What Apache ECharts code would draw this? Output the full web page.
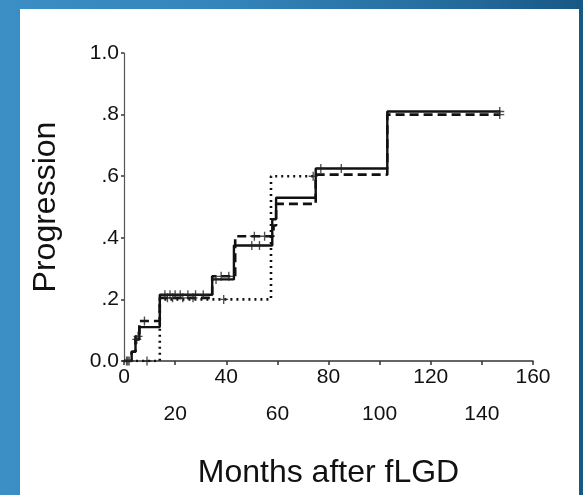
<!DOCTYPE html>
<html>
<head>
<meta charset="utf-8">
<script src="https://cdn.jsdelivr.net/npm/echarts@6/dist/echarts.min.js"></script>
<style>
  html, body { margin: 0; padding: 0; }
  body {
    width: 583px; height: 495px; position: relative; overflow: hidden;
    background: linear-gradient(to right, #3b8fc4 0%, #3384b9 40%, #23699b 80%, #175885 100%);
  }
  #panel { position: absolute; left: 20px; top: 9px; width: 559px; height: 486px; background: #ffffff; }
  #chart { position: absolute; left: 0; top: 0; width: 583px; height: 495px; }
</style>
</head>
<body>
<div id="panel"></div>
<div id="chart"></div>
<script>
// ---- data ----
var xTickLabels = ['0', '20', '40', '60', '80', '100', '120', '140', '160'];
var yTickLabels = ['0.0', '.2', '.4', '.6', '.8', '1.0'];

// solid curve (step changes: time, cumulative progression)
var solidTimes  = [0, 3, 4.5, 6, 14, 34.5, 43, 58, 59.5, 75, 103, 147];
var solidValues = [0, 0.03, 0.07, 0.11, 0.215, 0.265, 0.375, 0.46, 0.53, 0.625, 0.81, 0.81];

// dashed curve
var dashedTimes  = [0, 3, 4.5, 6, 14, 34.5, 43.5, 58.5, 59.5, 75, 103, 147];
var dashedValues = [0, 0.03, 0.08, 0.13, 0.205, 0.275, 0.405, 0.44, 0.51, 0.605, 0.80, 0.80];

// dotted curve
var dottedTimes  = [0, 14, 57.5, 74];
var dottedValues = [0, 0.2, 0.6, 0.6];

// censored observations (+ marks)
var solidCensorT = [1, 5, 16, 18, 20, 22, 25, 28, 31, 36, 50, 53, 77, 85, 147];
var solidCensorV = [0, 0.07, 0.215, 0.215, 0.215, 0.215, 0.215, 0.215, 0.215, 0.265, 0.375, 0.375, 0.625, 0.625, 0.81];
var dashedCensorT = [2, 5.5, 8, 17, 19, 23, 27, 38, 41, 51, 55, 147];
var dashedCensorV = [0, 0.08, 0.13, 0.205, 0.205, 0.205, 0.205, 0.275, 0.275, 0.405, 0.405, 0.80];
var dottedCensorT = [1.5, 9, 39, 74];
var dottedCensorV = [0, 0, 0.2, 0.6];

function zip(a, b) { return a.map(function (v, i) { return [v, b[i]]; }); }

var plus = 'path://M3.4,0h1.2v3.4h3.4v1.2h-3.4v3.4h-1.2v-3.4h-3.4v-1.2h3.4z';
var FONT = '"Liberation Sans", Arial, Helvetica, sans-serif';

var chart = echarts.init(document.getElementById('chart'), null, { renderer: 'canvas' });
chart.setOption({
  backgroundColor: 'transparent',
  animation: false,
  grid: { left: 124, right: 50, top: 53, bottom: 134, containLabel: false },
  xAxis: {
    type: 'value', min: 0, max: 160, interval: 20,
    name: 'Months after fLGD', nameLocation: 'middle', nameGap: 96,
    nameTextStyle: { fontFamily: FONT, fontSize: 32, color: '#111' },
    axisLine: { show: true, lineStyle: { color: '#333', width: 1.5 } },
    axisTick: { show: true, length: 4, lineStyle: { color: '#333', width: 1.5 } },
    splitLine: { show: false },
    axisLabel: {
      margin: 6, fontFamily: FONT, fontSize: 21, color: '#111',
      formatter: function (v) {
        var i = Math.round(v / 20);
        return i % 2 === 0 ? '{a|' + xTickLabels[i] + '}' : '{b|' + xTickLabels[i] + '}';
      },
      rich: {
        a: { fontFamily: FONT, fontSize: 21, color: '#111', lineHeight: 21 },
        b: { fontFamily: FONT, fontSize: 21, color: '#111', lineHeight: 21, padding: [74, 0, 0, 0] }
      }
    }
  },
  yAxis: {
    type: 'value', min: 0, max: 1, interval: 0.2,
    name: 'Progression', nameLocation: 'middle', nameGap: 62,
    nameTextStyle: { fontFamily: FONT, fontSize: 32, color: '#111' },
    axisLine: { show: true, lineStyle: { color: '#555', width: 1.2 } },
    axisTick: { show: true, length: 3, lineStyle: { color: '#333', width: 1.5 } },
    splitLine: { show: false },
    axisLabel: {
      margin: 5, fontFamily: FONT, fontSize: 21, color: '#111',
      formatter: function (v) { return yTickLabels[Math.round(v / 0.2)]; }
    }
  },
  series: [
    { type: 'line', step: 'end', symbol: 'none', data: zip(dottedTimes, dottedValues),
      lineStyle: { color: '#111', width: 2.6, type: [2, 4] }, z: 2 },
    { type: 'line', step: 'end', symbol: 'none', data: zip(dashedTimes, dashedValues),
      lineStyle: { color: '#111', width: 2.6, type: [9, 5] }, z: 3 },
    { type: 'line', step: 'end', symbol: 'none', data: zip(solidTimes, solidValues),
      lineStyle: { color: '#111', width: 2.4, type: 'solid' }, z: 4 },
    { type: 'scatter', symbol: plus, symbolSize: 9, data: zip(solidCensorT, solidCensorV),
      itemStyle: { color: '#222' }, z: 5 },
    { type: 'scatter', symbol: plus, symbolSize: 9, data: zip(dashedCensorT, dashedCensorV),
      itemStyle: { color: '#222' }, z: 5 },
    { type: 'scatter', symbol: plus, symbolSize: 9, data: zip(dottedCensorT, dottedCensorV),
      itemStyle: { color: '#222' }, z: 5 }
  ]
});
</script>
</body>
</html>
